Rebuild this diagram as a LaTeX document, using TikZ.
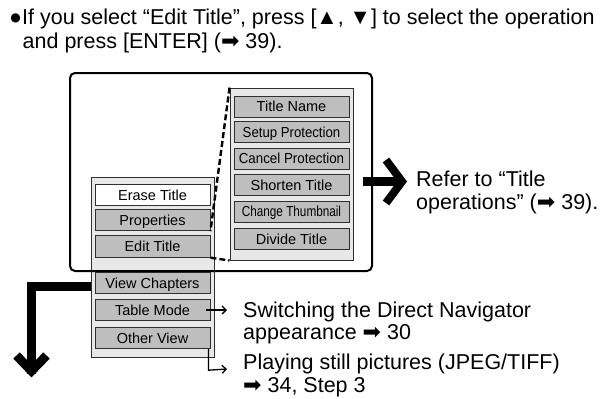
\documentclass[tikz,border=0pt]{standalone}
\usepackage{fontspec}
\setmainfont{Liberation Sans}
\newfontfamily\dv{DejaVu Sans}
\usetikzlibrary{arrows.meta}
\definecolor{panelfill}{HTML}{E8E8E8}
\definecolor{btnfill}{HTML}{BEBEBE}
\definecolor{btnline}{HTML}{303030}
\newcommand{\ra}{{\dv\fontsize{22}{22}\selectfont ➡}}
\tikzset{
  maintext/.style={font=\fontsize{21.5}{22.5}\selectfont, inner sep=0pt, align=left},
  panel/.style={draw=btnline, fill=panelfill, line width=0.9pt},
  btn/.style={draw=btnline, fill=btnfill, line width=0.9pt, minimum width=115pt, minimum height=21.5pt,
     inner sep=0pt, text height=10.4pt, text depth=0pt, font=\fontsize{14.5}{16}\selectfont},
  whitebtn/.style={btn, fill=white},
  outerbox/.style={draw=black, line width=2pt, rounded corners=5pt},
  dashconn/.style={draw=black, line width=2.4pt, dash pattern=on 6pt off 3pt},
  thinarrow/.style={draw=black, line width=1.3pt, -{Straight Barb[length=4pt,width=8pt,line width=1.3pt]}},
  bigarrow/.style={draw=black, line width=8.5pt, miter limit=10, line join=miter},
}
\begin{document}
\begin{tikzpicture}[x=1pt,y=-1pt]
\useasboundingbox[fill=white] (0,0) rectangle (606,399);

% top text
\node[maintext, anchor=base west] (l1) at (22,24) {If you select “Edit Title”, press [▲, ▼] to select the operation};
\node[inner sep=0pt, font=\dv\fontsize{12}{12}\selectfont] (bul) at (15.5,18.5) {●};
\node[maintext, anchor=base west] (l2) at (22.5,48) {and press [ENTER] (\ra{} 39).};

% panels
\node[panel, minimum width=123pt, minimum height=180pt, inner sep=0pt] (lp) at (152.5,267) {};
\node[panel, minimum width=123pt, minimum height=172pt, inner sep=0pt] (rp) at (291.5,174) {};

% left buttons
\node[whitebtn] (erase) at (152.5,195) {Erase Title};
\node[btn] (prop) at (152.5,220) {Properties};
\node[btn] (edit) at (152.5,246.5) {Edit Title};
\node[btn] (view) at (152.5,283) {View Chapters};
\node[btn] (table) at (152.5,310) {Table Mode};
\node[btn] (other) at (152.5,338) {Other View};

% right buttons
\node[btn, minimum height=21pt] (tname) at (291.5,106.5) {Title Name};
\node[btn, minimum height=21pt] (setup) at (291.5,132) {\scalebox{0.91}[1]{Setup Protection}};
\node[btn, minimum height=21pt] (cancel) at (291.5,158.5) {\scalebox{0.92}[1]{Cancel Protection}};
\node[btn, minimum height=21pt] (shorten) at (291.5,185) {Shorten Title};
\node[btn, minimum height=21pt] (thumb) at (291.5,211.5) {\scalebox{0.81}[1]{Change Thumbnail}};
\node[btn, minimum height=21pt] (divide) at (291.5,239) {Divide Title};

% dashed connectors
\draw[dashconn] (rp.north west) -- (prop.south east);
\draw[dashconn] (edit.south east) -- (rp.south west);

% outer box
\node[outerbox, minimum width=302pt, minimum height=198pt, inner sep=0pt] (ob) at (221,172) {};

% right texts (anchored at the baseline of their last line)
\node[maintext, anchor=base west] (refer) at (416,209) {Refer to “Title\\operations” (\ra{} 39).};
\node[maintext, anchor=base west] (sw) at (243,339.5) {Switching the Direct Navigator\\appearance \ra{} 30};
\node[maintext, anchor=base west] (play) at (243,392) {Playing still pictures (JPEG/TIFF)\\\ra{} 34, Step 3};

% big right arrow
\coordinate (rtip) at (402,181.5);
\draw[bigarrow, line width=8.3pt] (363,181.5) -- (399,181.5);
\draw[bigarrow, line width=8pt] (386,160) -- (rtip) -- (386,203);

% big down-left arrow
\coordinate (corner) at (31.5,286.5);
\coordinate (dtip) at (31.5,371);
\draw[bigarrow] (lp.west |- corner) -- (corner) -- ([yshift=-3pt]dtip);
\draw[bigarrow, line width=9pt] (16.5,355.5) -- (dtip) -- (46.5,355.5);

% thin arrows
\coordinate (tmend) at (227,310);
\coordinate (ovend) at (227,369);
\draw[thinarrow] ([xshift=-4pt]table.east) -- (tmend);
\draw[thinarrow] ([xshift=-2pt]other.south east) -- ++(0,21) -- (ovend);
\end{tikzpicture}
\end{document}
